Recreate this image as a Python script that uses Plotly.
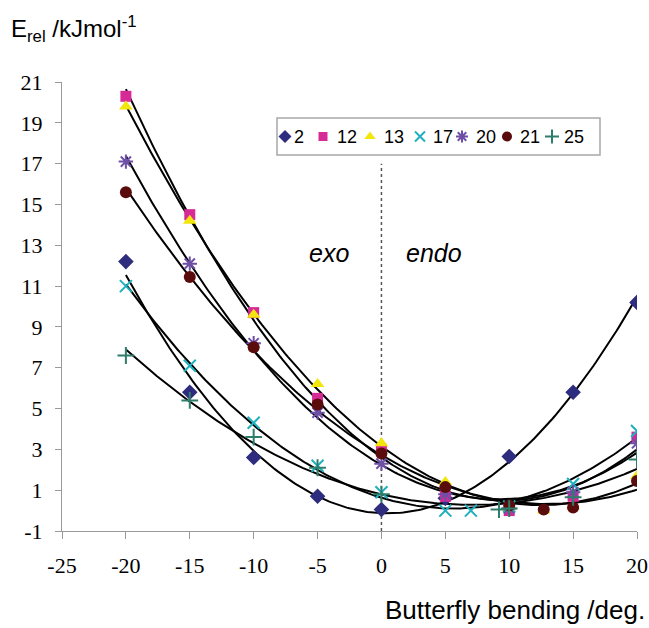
import numpy as np
import plotly.graph_objects as go

# ---- data ----
series_names = ["2", "12", "13", "17", "20", "21", "25"]

x_2 = [-20, -15, -10, -5, 0, 5, 10, 15, 20]
y_2 = [12.2, 5.8, 2.6, 0.7, 0.05, 0.6, 2.65, 5.8, 10.2]

x_12 = [-20, -15, -10, -5, 0, 5, 10, 15, 20]
y_12 = [20.3, 14.5, 9.7, 5.5, 3.0, 0.7, 0.0, 0.7, 3.6]

x_13 = [-20, -15, -10, -5, 0, 5, 10, 12.7, 15, 20]
y_13 = [19.8, 14.2, 9.6, 6.2, 3.3, 1.4, 0.1, 0.0, 0.2, 1.7]

x_17 = [-20, -15, -10, -5, 0, 5, 7, 10, 15, 20]
y_17 = [11.0, 7.1, 4.3, 2.2, 0.9, 0.0, 0.0, 0.2, 1.3, 3.9]

x_20 = [-20, -15, -10, -5, 0, 5, 10, 15, 20]
y_20 = [17.1, 12.1, 8.2, 4.8, 2.3, 0.8, 0.1, 0.9, 3.3]

x_21 = [-20, -15, -10, -5, 0, 5, 10, 12.7, 15, 20]
y_21 = [15.6, 11.45, 8.0, 5.2, 2.8, 1.15, 0.25, 0.05, 0.15, 1.45]

x_25 = [-20, -15, -10, -5, 0, 9.2, 10, 15, 20]
y_25 = [7.6, 5.4, 3.6, 2.1, 0.8, 0.05, 0.1, 0.65, 2.5]

x_ticks = [-25, -20, -15, -10, -5, 0, 5, 10, 15, 20]
y_ticks = [-1, 1, 3, 5, 7, 9, 11, 13, 15, 17, 19, 21]

xs = [x_2, x_12, x_13, x_17, x_20, x_21, x_25]
ys = [y_2, y_12, y_13, y_17, y_20, y_21, y_25]

# ---- styles ----
colors = ["#2E2C7E", "#D62A97", "#F2E60C", "#1FB0C0", "#6E4FA6", "#5A0B0B", "#2E7D6A"]
symbols = ["diamond", "square", "triangle-up", "x-thin-open", "asterisk-open", "circle", "cross-thin-open"]
sizes = [12, 11, 12, 12, 12, 12, 12]

fig = go.Figure()

# trendlines (2nd order fits of each series)
for xv, yv in zip(xs, ys):
    c = np.polyfit(xv, yv, 2)
    xx = np.linspace(-20, 20, 200)
    fig.add_trace(go.Scatter(x=xx, y=np.polyval(c, xx), mode="lines",
                             line=dict(color="black", width=2), showlegend=False,
                             hoverinfo="skip"))

# markers
for name, xv, yv, col, sym, sz in zip(series_names, xs, ys, colors, symbols, sizes):
    open_sym = sym.endswith("open")
    fig.add_trace(go.Scatter(x=xv, y=yv, mode="markers", name=name, showlegend=False,
                             marker=dict(symbol=sym, size=sz, color=col,
                                         line=dict(color=col, width=2 if open_sym else 0))))

# manual legend (pixel-based overlay axes)
leg_marker_px = [285, 323, 370, 420, 462, 507, 552]
leg_text_px = [293, 336, 383, 432, 475, 519, 563]
leg_y = 136.5
for name, col, sym, sz, mx, tx in zip(series_names, colors, symbols, sizes, leg_marker_px, leg_text_px):
    open_sym = sym.endswith("open")
    fig.add_trace(go.Scatter(x=[mx], y=[leg_y], xaxis="x2", yaxis="y2", mode="markers",
                             showlegend=False, hoverinfo="skip",
                             marker=dict(symbol=sym, size=sz - 2, color=col,
                                         line=dict(color=col, width=2 if open_sym else 0))))
    fig.add_annotation(x=tx - 1, y=leg_y, xref="x2", yref="y2", text=name, showarrow=False,
                       xanchor="left", yanchor="middle",
                       font=dict(family="Liberation Sans, Arial", size=18, color="black"))

fig.add_shape(type="rect", xref="x2", yref="y2", x0=277, x1=600, y0=118, y1=155,
              line=dict(color="#a8a8a8", width=1.5), fillcolor="rgba(0,0,0,0)")

# dotted divider at 0
fig.add_shape(type="line", xref="x", yref="y", x0=0, x1=0, y0=-1, y1=17,
              line=dict(color="#555555", width=1.5, dash="dot"), layer="below")

fig.add_annotation(x=-4.1, y=12.6, xref="x", yref="y", text="<i>exo</i>", showarrow=False,
                   font=dict(family="Liberation Sans, Arial", size=25, color="black"))
fig.add_annotation(x=4.15, y=12.6, xref="x", yref="y", text="<i>endo</i>", showarrow=False,
                   font=dict(family="Liberation Sans, Arial", size=25, color="black"))

# axis titles
fig.add_annotation(x=-0.093, y=1.118, xref="paper", yref="paper",
                   text="E<sub>rel</sub> /kJmol<sup>-1</sup>", showarrow=False,
                   xanchor="left", yanchor="middle",
                   font=dict(family="Liberation Sans, Arial", size=24, color="black"))
fig.add_annotation(x=1.018, y=-0.175, xref="paper", yref="paper",
                   text="Butterfly bending /deg.", showarrow=False,
                   xanchor="right", yanchor="middle",
                   font=dict(family="Liberation Sans, Arial", size=26, color="black"))

tick_font = dict(family="Liberation Serif, Times New Roman", size=22, color="black")
fig.update_layout(
    width=649, height=628, autosize=False,
    margin=dict(l=62, r=12, t=82, b=97, autoexpand=False),
    paper_bgcolor="white", plot_bgcolor="white",
    showlegend=False,
    xaxis=dict(range=[-25, 20], tickvals=x_ticks, ticktext=[str(v) for v in x_ticks],
               showgrid=False, zeroline=False, showline=True, linecolor="#999999",
               linewidth=1.2, ticks="outside", ticklen=7, tickcolor="#999999",
               tickfont=tick_font, ticklabelstandoff=7, automargin=False,
               ticklabeloverflow="allow"),
    yaxis=dict(range=[-1, 21], tickvals=y_ticks, ticktext=[str(v) for v in y_ticks],
               showgrid=False, zeroline=False, showline=True, linecolor="#999999",
               linewidth=1.2, ticks="outside", ticklen=6, tickcolor="#999999",
               tickfont=tick_font, ticklabelstandoff=8, automargin=False),
    xaxis2=dict(range=[62, 637], overlaying="x", visible=False, fixedrange=True),
    yaxis2=dict(range=[531, 82], overlaying="y", visible=False, fixedrange=True),
)

fig.write_html("out.html", config={"displayModeBar": False, "responsive": False},
               post_script="document.body.style.margin='0px';")
